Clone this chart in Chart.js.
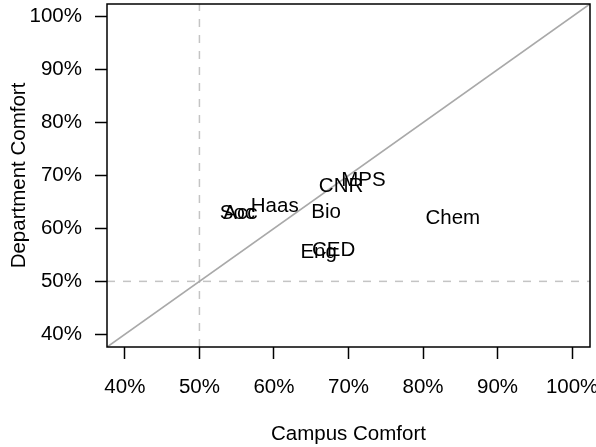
<!DOCTYPE html>
<html>
<head>
<meta charset="utf-8">
<script src="https://cdn.jsdelivr.net/npm/chart.js@4/dist/chart.umd.min.js"></script>
<style>
  html, body { margin: 0; padding: 0; background: #ffffff; }
  canvas { display: block; }
</style>
</head>
<body>
<canvas id="chart" width="596" height="447"></canvas>
<script>
// Unit abbreviations and their comfort scores (percent)
const units = ['Soc', 'Acc', 'Haas', 'Bio', 'CNR', 'MPS', 'Chem', 'CED', 'Eng'];
const campusComfort = [55.1, 55.5, 60.1, 67.0, 69.0, 72.0, 84.0, 68.0, 66.0];
const deptComfort   = [62.9, 62.8, 64.1, 63.1, 68.0, 69.0, 62.0, 55.9, 55.4];

// Axis ticks and range (both axes share them)
const tickValues = [40, 50, 60, 70, 80, 90, 100];
const axisRange = [37.6, 102.4];
const referenceLevel = 50;

const FAMILY = "'Liberation Sans', Arial, Helvetica, sans-serif";
const FONT_SIZE = 20.5;

const pct = v => v + '%';

// Box around the plotting region
const framePlugin = {
  id: 'frame',
  afterDraw(chart) {
    const { ctx, chartArea: a } = chart;
    ctx.save();
    ctx.strokeStyle = '#000000';
    ctx.lineWidth = 1.5;
    ctx.strokeRect(a.left, a.top, a.right - a.left, a.bottom - a.top);
    ctx.restore();
  }
};

// Unit names written at each (campus, department) point
const textLabelPlugin = {
  id: 'textLabels',
  afterDatasetsDraw(chart) {
    const { ctx, scales: { x, y } } = chart;
    ctx.save();
    ctx.font = FONT_SIZE + 'px ' + FAMILY;
    ctx.fillStyle = '#000000';
    ctx.textAlign = 'center';
    ctx.textBaseline = 'middle';
    units.forEach((name, i) => {
      ctx.fillText(name, x.getPixelForValue(campusComfort[i]), y.getPixelForValue(deptComfort[i]));
    });
    ctx.restore();
  }
};

const unitPoints = units.map((_, i) => ({ x: campusComfort[i], y: deptComfort[i] }));

function fixedTicks(scale) {
  scale.ticks = tickValues.map(v => ({ value: v }));
}

new Chart(document.getElementById('chart'), {
  type: 'scatter',
  data: {
    datasets: [
      {
        label: 'equal',
        data: [{ x: axisRange[0], y: axisRange[0] }, { x: axisRange[1], y: axisRange[1] }],
        showLine: true,
        borderColor: '#a9a9a9',
        borderWidth: 1.7,
        pointRadius: 0
      },
      {
        label: 'campus 50%',
        data: [{ x: referenceLevel, y: axisRange[0] }, { x: referenceLevel, y: axisRange[1] }],
        showLine: true,
        borderColor: '#c4c4c4',
        borderWidth: 1.5,
        borderDash: [8, 8],
        pointRadius: 0
      },
      {
        label: 'department 50%',
        data: [{ x: axisRange[0], y: referenceLevel }, { x: axisRange[1], y: referenceLevel }],
        showLine: true,
        borderColor: '#c4c4c4',
        borderWidth: 1.5,
        borderDash: [8, 8],
        pointRadius: 0
      },
      {
        label: 'units',
        data: unitPoints,
        pointRadius: 0,
        pointHoverRadius: 0
      }
    ]
  },
  options: {
    responsive: false,
    animation: false,
    devicePixelRatio: 1,
    layout: { padding: { top: 4, right: 6, left: 0, bottom: 0 } },
    plugins: {
      legend: { display: false },
      tooltip: { enabled: false },
      title: { display: false }
    },
    scales: {
      x: {
        type: 'linear',
        min: axisRange[0],
        max: axisRange[1],
        afterBuildTicks: fixedTicks,
        afterFit(scale) {
          scale.height = 100;
          scale.paddingLeft = 0;
          scale.paddingRight = 0;
        },
        border: { display: false },
        grid: {
          drawOnChartArea: false,
          drawTicks: true,
          tickLength: 12,
          tickColor: '#000000',
          tickWidth: 1.5
        },
        ticks: {
          callback: pct,
          color: '#000000',
          padding: 16,
          maxRotation: 0,
          autoSkip: false,
          font: { family: FAMILY, size: FONT_SIZE }
        },
        title: {
          display: true,
          text: 'Campus Comfort',
          color: '#000000',
          padding: { top: 0, bottom: 0 },
          font: { family: FAMILY, size: FONT_SIZE }
        }
      },
      y: {
        type: 'linear',
        min: axisRange[0],
        max: axisRange[1],
        afterBuildTicks: fixedTicks,
        afterFit(scale) {
          scale.width = 107;
          scale.paddingTop = 0;
          scale.paddingBottom = 0;
        },
        border: { display: false },
        grid: {
          drawOnChartArea: false,
          drawTicks: true,
          tickLength: 12,
          tickColor: '#000000',
          tickWidth: 1.5
        },
        ticks: {
          callback: pct,
          color: '#000000',
          padding: 13,
          autoSkip: false,
          font: { family: FAMILY, size: FONT_SIZE }
        },
        title: {
          display: true,
          text: 'Department Comfort',
          color: '#000000',
          padding: { top: 7, bottom: 0 },
          font: { family: FAMILY, size: FONT_SIZE }
        }
      }
    }
  },
  plugins: [framePlugin, textLabelPlugin]
});
</script>
</body>
</html>
